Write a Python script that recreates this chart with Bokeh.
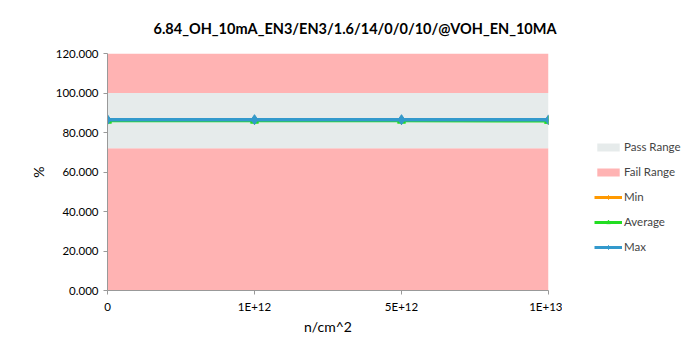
from bokeh.plotting import figure
from bokeh.models import (Range1d, FixedTicker, Legend, LegendItem)
from bokeh.layouts import row
from bokeh.embed import file_html
from bokeh.resources import INLINE

title_text = "6.84_OH_10mA_EN3/EN3/1.6/14/0/0/10/@VOH_EN_10MA"
categories = ["0", "1E+12", "5E+12", "1E+13"]
x_pos = [0, 1, 2, 3]
min_vals = [86.3, 86.3, 86.3, 86.2]
avg_vals = [85.9, 85.9, 85.9, 85.8]
max_vals = [86.5, 86.5, 86.5, 86.4]
pass_low, pass_high = 72.0, 100.0
fail_low, fail_high = 0.0, 120.0
y_ticks = [0, 20, 40, 60, 80, 100, 120]
y_tick_labels = ["0.000", "20.000", "40.000", "60.000", "80.000", "100.000", "120.000"]

FONT = "Lato"
FAIL_C, PASS_C = "#FFB3B3", "#E6EBEB"
MIN_C, AVG_C, MAX_C = "#FF9900", "#22DD22", "#3399CC"
H = 347
p = figure(width=562, height=H, output_backend="svg", toolbar_location=None,
           x_range=Range1d(0, 3), y_range=Range1d(0, 120),
           min_border_left=107, min_border_right=14, min_border_top=53, min_border_bottom=57)
p.outline_line_color = None
p.xgrid.visible = False
p.ygrid.visible = False

p.quad(left=x_pos[0], right=x_pos[-1], bottom=pass_high, top=fail_high, fill_color=FAIL_C, line_color=None)
p.quad(left=x_pos[0], right=x_pos[-1], bottom=fail_low, top=pass_low, fill_color=FAIL_C, line_color=None)
p.quad(left=x_pos[0], right=x_pos[-1], bottom=pass_low, top=pass_high, fill_color=PASS_C, line_color=None)

p.line(x_pos, min_vals, line_color=MIN_C, line_width=3)
p.scatter(x_pos, min_vals, marker="diamond", size=9, fill_color=MIN_C, line_color=MIN_C)
p.line(x_pos, avg_vals, line_color=AVG_C, line_width=3)
p.scatter(x_pos, avg_vals, marker="triangle", size=8, fill_color=AVG_C, line_color=AVG_C)
p.line(x_pos, max_vals, line_color=MAX_C, line_width=3.5)
p.scatter(x_pos, max_vals, marker="diamond", size=10, fill_color=MAX_C, line_color=MAX_C)

p.xaxis.ticker = FixedTicker(ticks=x_pos)
p.xaxis.major_label_overrides = {i: c for i, c in zip(x_pos, categories)}
p.yaxis.ticker = FixedTicker(ticks=y_ticks)
p.yaxis.major_label_overrides = {t: s for t, s in zip(y_ticks, y_tick_labels)}
for ax in (p.xaxis[0], p.yaxis[0]):
    ax.axis_line_color = "#999999"
    ax.major_tick_line_color = "#999999"
    ax.minor_tick_line_color = None
    ax.major_tick_in = 0
    ax.major_tick_out = 4
    ax.major_label_text_font = FONT
    ax.major_label_text_font_size = "11.5px"
    ax.major_label_text_color = "#000000"
    ax.axis_label_text_font = FONT
    ax.axis_label_text_font_style = "normal"
    ax.axis_label_text_font_size = "14px"
    ax.axis_label_text_color = "#000000"
p.xaxis.axis_label = "n/cm^2"
p.yaxis.axis_label = "%"
p.yaxis.axis_label_standoff = 6
p.xaxis.axis_label_standoff = 2
p.xaxis.major_label_standoff = 5

p.title.text = title_text
p.title.text_font = FONT
p.title.text_font_style = "bold"
p.title.text_font_size = "14.5px"
p.title.text_color = "#000000"
p.title.align = "left"
p.title.offset = 46
p.title.standoff = 34

# legend panel
q = figure(width=123, height=H, output_backend="svg", toolbar_location=None,
           x_range=Range1d(0, 1), y_range=Range1d(0, 1),
           min_border_left=0, min_border_right=0, min_border_top=0, min_border_bottom=0)
q.axis.visible = False
q.grid.visible = False
q.outline_line_color = None
off = [-10]
l_pass = q.quad(left=off, right=off, bottom=off, top=off, fill_color=PASS_C, line_color=None)
l_fail = q.quad(left=off, right=off, bottom=off, top=off, fill_color=FAIL_C, line_color=None)
l_min = [q.line(off, off, line_color=MIN_C, line_width=3),
         q.scatter(off, off, marker="diamond", size=7, fill_color=MIN_C, line_color=MIN_C)]
l_avg = [q.line(off, off, line_color=AVG_C, line_width=3),
         q.scatter(off, off, marker="triangle", size=6, fill_color=AVG_C, line_color=AVG_C)]
l_max = [q.line(off, off, line_color=MAX_C, line_width=3),
         q.scatter(off, off, marker="diamond", size=7, fill_color=MAX_C, line_color=MAX_C)]

legend = Legend(items=[
    LegendItem(label="Pass Range", renderers=[l_pass]),
    LegendItem(label="Fail Range", renderers=[l_fail]),
    LegendItem(label="Min", renderers=l_min),
    LegendItem(label="Average", renderers=l_avg),
    LegendItem(label="Max", renderers=l_max),
], location=(32, 37), orientation="vertical")
legend.background_fill_alpha = 0
legend.border_line_color = None
legend.label_text_font = FONT
legend.label_text_font_size = "11.5px"
legend.glyph_width = 28
legend.glyph_height = 10
legend.spacing = 12
legend.label_standoff = 2
legend.padding = 0
legend.margin = 0
q.add_layout(legend, "center")

open("out.html", "w").write(file_html(row(p, q), INLINE))
